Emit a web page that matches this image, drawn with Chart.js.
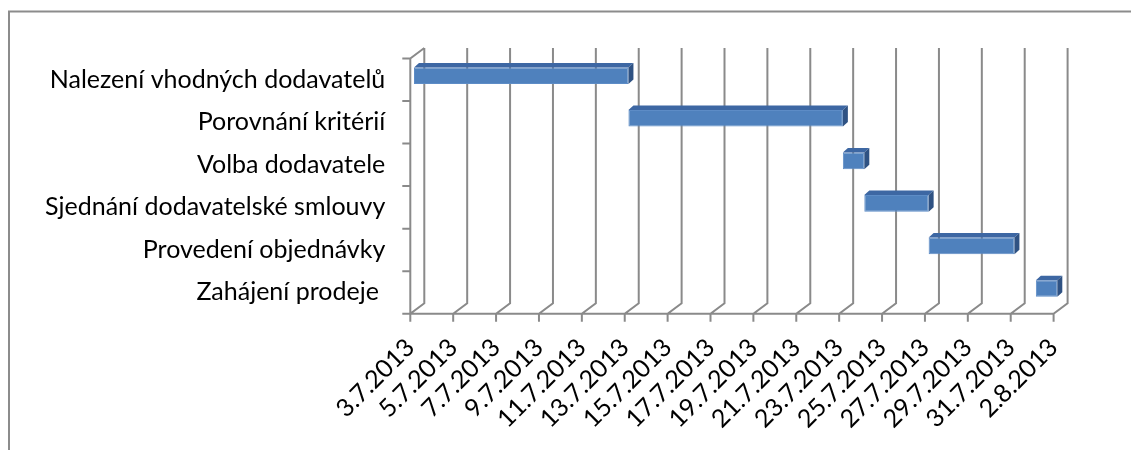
<!DOCTYPE html>
<html>
<head>
<meta charset="utf-8">
<script src="https://cdn.jsdelivr.net/npm/chart.js@4.4.0/dist/chart.umd.min.js"></script>
<style>
  html, body { margin: 0; padding: 0; background: #fff; }
  #wrap { width: 1131px; height: 450px; position: relative; }
  canvas { display: block; }
</style>
</head>
<body>
<div id="wrap"><canvas id="c" width="1131" height="450"></canvas></div>
<script>
// ---- data ----
const categories = [
  'Nalezení vhodných dodavatelů',
  'Porovnání kritérií',
  'Volba dodavatele',
  'Sjednání dodavatelské smlouvy',
  'Provedení objednávky',
  'Zahájení prodeje '
];
const startDates = ['3.7.2013', '13.7.2013', '23.7.2013', '24.7.2013', '27.7.2013', '1.8.2013'];
const durationDays = [10, 10, 1, 3, 4, 1];
const tickLabels = [
  '3.7.2013', '5.7.2013', '7.7.2013', '9.7.2013', '11.7.2013', '13.7.2013',
  '15.7.2013', '17.7.2013', '19.7.2013', '21.7.2013', '23.7.2013', '25.7.2013',
  '27.7.2013', '29.7.2013', '31.7.2013', '2.8.2013'
];

// convert d.m.yyyy strings into day offsets from the first tick label
function dayNumber(s) {
  const p = s.split('.').map(Number);
  return Date.UTC(p[2], p[1] - 1, p[0]) / 86400000;
}
const day0 = dayNumber(tickLabels[0]);
const dayMax = dayNumber(tickLabels[tickLabels.length - 1]) - day0;
const bars = startDates.map((s, i) => {
  const a = dayNumber(s) - day0;
  return [a, a + durationDays[i]];
});

// ---- 3D look ----
const DEPTH_X = 14, DEPTH_Y = -10.5;      // wall depth
const BAR_SHIFT_X = 3.7, BAR_SHIFT_Y = -4; // bars sit a little inside the box
const BAR_DX = 5, BAR_DY = -4.5;          // bar thickness
const GRID = '#8a8a8a';

const frame3d = {
  id: 'frame3d',
  beforeDraw(chart) {
    const ctx = chart.ctx;
    ctx.save();
    ctx.strokeStyle = '#8c8c8c';
    ctx.lineWidth = 2;
    ctx.beginPath();
    ctx.moveTo(9, 460);
    ctx.lineTo(9, 11.5);
    ctx.lineTo(1140, 11.5);
    ctx.stroke();
    ctx.restore();
  },
  beforeDatasetsDraw(chart) {
    const ctx = chart.ctx;
    const xs = chart.scales.x;
    const top = chart.chartArea.top, bottom = chart.chartArea.bottom;
    const left = chart.chartArea.left;
    ctx.save();
    ctx.strokeStyle = GRID;
    ctx.lineWidth = 2;
    ctx.lineCap = 'butt';
    ctx.beginPath();
    // back wall vertical gridlines + floor diagonals + tick marks
    xs.ticks.forEach(t => {
      const px = xs.getPixelForValue(t.value);
      ctx.moveTo(px, bottom + 8);
      ctx.lineTo(px, bottom);
      ctx.lineTo(px + DEPTH_X, bottom + DEPTH_Y);
      ctx.lineTo(px + DEPTH_X, top + DEPTH_Y);
    });
    // floor front edge
    ctx.moveTo(left - 8, bottom);
    ctx.lineTo(xs.getPixelForValue(dayMax), bottom);
    // left wall front edge and top diagonal
    ctx.moveTo(left, bottom);
    ctx.lineTo(left, top);
    ctx.lineTo(left + DEPTH_X, top + DEPTH_Y);
    // category tick marks
    const n = categories.length;
    const step = (bottom - top) / n;
    for (let i = 0; i < n; i++) {
      const py = top + i * step;
      ctx.moveTo(left - 8, py);
      ctx.lineTo(left, py);
    }
    ctx.stroke();
    ctx.restore();

    ctx.save();
    ctx.translate(BAR_SHIFT_X, BAR_SHIFT_Y);
  },
  afterDatasetsDraw(chart) {
    const ctx = chart.ctx;
    const meta = chart.getDatasetMeta(0);
    meta.data.forEach(el => {
      const p = el.getProps(['x', 'y', 'base', 'height'], true);
      const x0 = Math.min(p.base, p.x), x1 = Math.max(p.base, p.x);
      const y0 = p.y - p.height / 2, y1 = p.y + p.height / 2;
      // top face
      ctx.fillStyle = '#3d67a3';
      ctx.beginPath();
      ctx.moveTo(x0, y0);
      ctx.lineTo(x0 + BAR_DX, y0 + BAR_DY);
      ctx.lineTo(x1 + BAR_DX, y0 + BAR_DY);
      ctx.lineTo(x1, y0);
      ctx.closePath();
      ctx.fill();
      // side face
      ctx.fillStyle = '#2f5283';
      ctx.beginPath();
      ctx.moveTo(x1, y0);
      ctx.lineTo(x1 + BAR_DX, y0 + BAR_DY);
      ctx.lineTo(x1 + BAR_DX, y1 + BAR_DY);
      ctx.lineTo(x1, y1);
      ctx.closePath();
      ctx.fill();
    });
    ctx.restore();
  }
};

const FONT = { family: 'Lato, "Open Sans", sans-serif', size: 25 };

new Chart(document.getElementById('c'), {
  type: 'bar',
  data: {
    labels: categories,
    datasets: [{
      data: bars,
      backgroundColor: '#4f81bd',
      borderColor: '#5d8cc6',
      borderWidth: 1,
      borderSkipped: false,
      categoryPercentage: 1,
      barPercentage: 0.39
    }]
  },
  options: {
    indexAxis: 'y',
    responsive: false,
    animation: false,
    events: [],
    layout: { padding: { left: 0, top: 58.5, right: 77.4, bottom: 0 } },
    plugins: { legend: { display: false }, tooltip: { enabled: false }, title: { display: false } },
    scales: {
      x: {
        type: 'linear',
        min: 0,
        max: dayMax,
        grid: { display: false, drawTicks: false, tickLength: 0 },
        border: { display: false },
        afterFit(scale) { scale.height = 450 - 313.7; },
        ticks: {
          stepSize: 2,
          autoSkip: false,
          maxRotation: 45,
          minRotation: 45,
          padding: 19,
          color: '#000',
          font: FONT,
          callback: (v, i) => tickLabels[i]
        }
      },
      y: {
        type: 'category',
        grid: { display: false, drawTicks: false, tickLength: 0 },
        border: { display: false },
        afterFit(scale) { scale.width = 410.3; },
        ticks: {
          padding: 25,
          color: '#000',
          font: FONT
        }
      }
    }
  },
  plugins: [frame3d]
});
</script>
</body>
</html>
